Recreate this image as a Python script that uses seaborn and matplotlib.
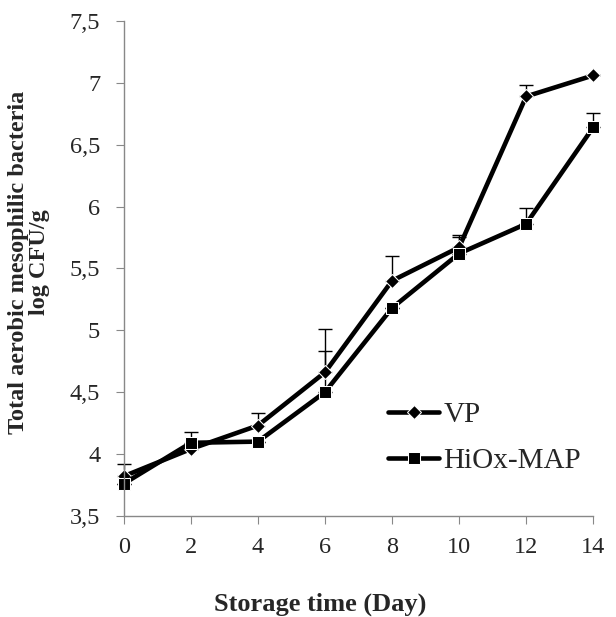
import pandas as pd
import matplotlib
matplotlib.use("Agg")
import matplotlib.pyplot as plt
import seaborn as sns
from matplotlib.ticker import FuncFormatter

# datos
dias = [0, 2, 4, 6, 8, 10, 12, 14]
vp = [3.82, 4.04, 4.23, 4.66, 5.40, 5.67, 6.89, 7.06]
hiox = [3.76, 4.09, 4.10, 4.50, 5.18, 5.62, 5.86, 6.64]
vp_err = [0.10, 0.00, 0.10, 0.35, 0.20, 0.10, 0.09, 0.00]
hiox_err = [0.00, 0.09, 0.00, 0.33, 0.00, 0.13, 0.13, 0.12]

df = pd.DataFrame({
    "dia": dias * 2,
    "valor": vp + hiox,
    "grupo": ["VP"] * len(dias) + ["HiOx-MAP"] * len(dias),
})

sns.set_style("white")
plt.rcParams["font.family"] = ["Liberation Serif", "DejaVu Serif"]

fig = plt.figure(figsize=(6.16, 6.17), dpi=100)
ax = fig.add_axes([0.201, 0.164, 0.762, 0.802])

# barras de error (solo hacia arriba)
ax.errorbar(dias, vp, yerr=[[0] * len(dias), vp_err], fmt="none",
            ecolor="black", elinewidth=1, capsize=5, capthick=1)
ax.errorbar(dias, hiox, yerr=[[0] * len(dias), hiox_err], fmt="none",
            ecolor="black", elinewidth=1, capsize=5, capthick=1)

sns.lineplot(data=df, x="dia", y="valor", hue="grupo", style="grupo",
             palette=["black", "black"], markers={"VP": "D", "HiOx-MAP": "s"},
             dashes=False, linewidth=3.3, markersize=8.5, ax=ax)
for ln in ax.lines:
    if ln.get_marker() == "D":
        ln.set_markersize(7.5)

ax.set_xlim(0, 14)
ax.set_ylim(3.5, 7.5)
ax.set_xticks(dias)
ax.set_yticks([3.5, 4, 4.5, 5, 5.5, 6, 6.5, 7, 7.5])
ax.yaxis.set_major_formatter(FuncFormatter(lambda v, p: ("%g" % v).replace(".", ",")))
ax.tick_params(axis="both", which="major", labelsize=17.5, length=6, color="#888888",
               direction="out", left=True, bottom=True)
ax.tick_params(axis="y", pad=11)
ax.tick_params(axis="x", pad=9)
for s in ["top", "right"]:
    ax.spines[s].set_visible(False)
for s in ["left", "bottom"]:
    ax.spines[s].set_color("#888888")
    ax.spines[s].set_linewidth(1)
for ln in ax.lines:
    ln.set_clip_on(False)
for c in ax.collections:
    c.set_clip_on(False)

ax.set_xlabel("Storage time (Day)", fontsize=19, fontweight="bold")
ax.xaxis.set_label_coords(0.418, -0.156)
ax.set_ylabel("Total aerobic mesophilic bacteria\nlog CFU/g", fontsize=17.5,
              fontweight="bold", linespacing=1.0)
ax.yaxis.set_label_coords(-0.157, 0.513)

handles, labels = ax.get_legend_handles_labels()
leg = ax.legend(handles, labels, loc="center left", bbox_to_anchor=(0.563, 0.157),
                frameon=False, fontsize=21, handlelength=1.75, handletextpad=0.15,
                labelspacing=0.68, borderpad=0, borderaxespad=0)

plt.savefig("out.png", dpi=100)
